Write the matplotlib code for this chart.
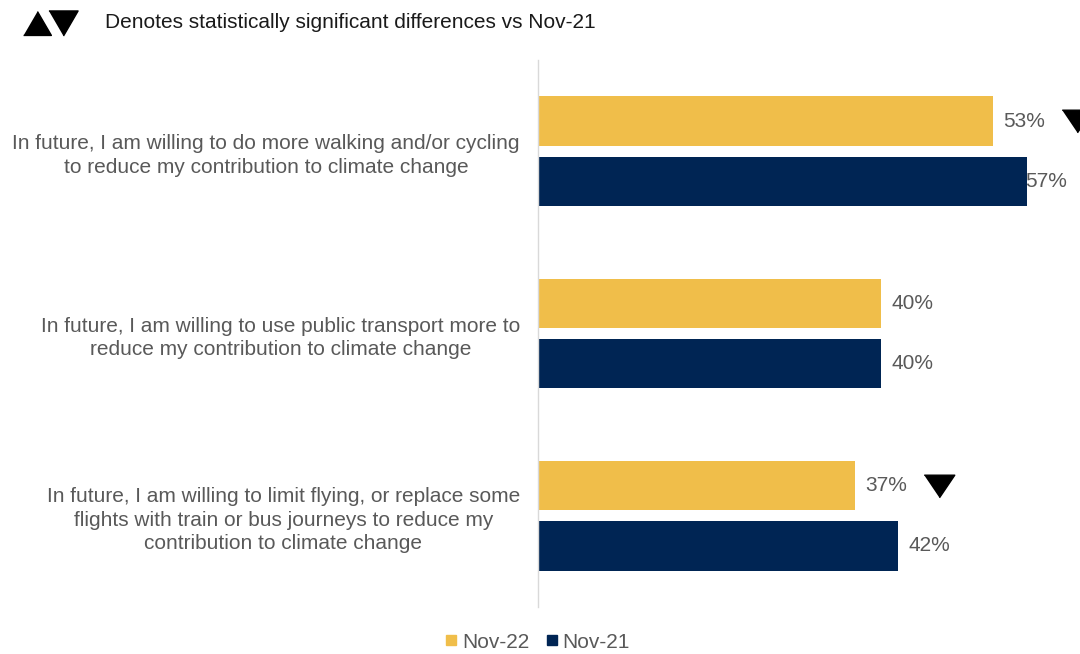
import matplotlib
matplotlib.use("Agg")
import matplotlib.pyplot as plt
from matplotlib.lines import Line2D
from matplotlib.transforms import ScaledTranslation
import numpy as np

plt.rcParams['font.family'] = ['Liberation Sans', 'DejaVu Sans']

# Survey statements (top to bottom)
statements = [
    "In future, I am willing to do more walking and/or cycling\nto reduce my contribution to climate change",
    "In future, I am willing to use public transport more to\nreduce my contribution to climate change",
    "In future, I am willing to limit flying, or replace some\nflights with train or bus journeys to reduce my\ncontribution to climate change",
]
waves = ["Nov-22", "Nov-21"]
nov22 = [53, 40, 37]
nov21 = [57, 40, 42]
# Significant change vs Nov-21 for the Nov-22 values: -1 down, 1 up, 0 none
significance = [-1, 0, -1]

YELLOW = "#F0BE4A"
NAVY = "#002554"
LABEL_GREY = "#595959"
VALUE_GREY = "#595959"
FS = 15

W, H, DPI = 1080, 654, 100
fig = plt.figure(figsize=(W / DPI, H / DPI), dpi=DPI)
ax = fig.add_axes([538 / W, 47 / H, 1 - 538 / W, (607 - 60) / H])

y = np.arange(len(statements))
bar_h = 0.27
off = 0.165
b22 = ax.barh(y - off, nov22, height=bar_h, color=YELLOW, label=waves[0])
b21 = ax.barh(y + off, nov21, height=bar_h, color=NAVY, label=waves[1])

ax.set_xlim(0, 63.2)
ax.set_ylim(len(statements) - 0.5, -0.5)

for s in ["top", "right", "bottom"]:
    ax.spines[s].set_visible(False)
ax.spines["left"].set_color("#d9d9d9")
ax.spines["left"].set_linewidth(1.0)
ax.set_xticks([])
ax.set_yticks(y)
ax.set_yticklabels(statements, fontsize=FS, color=LABEL_GREY, linespacing=1.3)
for t in ax.get_yticklabels():
    t.set_multialignment("center")
ax.tick_params(axis="y", length=0, pad=13)

# Value labels; the widest bar's label is pulled in so it stays on the canvas
label_shift = {(1, 0): -1.5}
for wi, (vals, bars) in enumerate([(nov22, b22), (nov21, b21)]):
    for i, (v, bar) in enumerate(zip(vals, bars)):
        dx = label_shift.get((wi, i), 7.5)
        ax.annotate(f"{v}%", xy=(v, bar.get_y() + bar.get_height() / 2),
                    xytext=(dx, 0), textcoords="offset points",
                    ha="left", va="center", fontsize=FS, color=VALUE_GREY,
                    annotation_clip=False)

# Significance markers next to the Nov-22 values
tri_down = [(-1, 0.74), (1, 0.74), (0, -0.74)]
tri_up = [(-1, -0.74), (1, -0.74), (0, 0.74)]
shift = ax.transData + ScaledTranslation(84 / DPI, 0, fig.dpi_scale_trans)
for i, (v, sig) in enumerate(zip(nov22, significance)):
    if sig == 0:
        continue
    ax.plot([v], [y[i] - off], marker=tri_down if sig < 0 else tri_up,
            markersize=22, color="black", linestyle="none",
            transform=shift, clip_on=False)

# Key for the significance markers
key_up = [(-1, -0.86), (1, -0.86), (0, 0.86)]
key_down = [(-1, 0.86), (1, 0.86), (0, -0.86)]
fig.add_artist(Line2D([37 / W], [1 - 23 / H], marker=key_up, markersize=20,
                      color="black", linestyle="none", transform=fig.transFigure))
fig.add_artist(Line2D([63 / W], [1 - 23 / H], marker=key_down, markersize=21,
                      color="black", linestyle="none", transform=fig.transFigure))
fig.text(105 / W, 1 - 22 / H, "Denotes statistically significant differences vs Nov-21",
         fontsize=FS, color="#1a1a1a", ha="left", va="center")

# Series legend
handles = [Line2D([], [], marker="s", markersize=7, color=YELLOW, linestyle="none"),
           Line2D([], [], marker="s", markersize=7, color=NAVY, linestyle="none")]
leg = fig.legend(handles, waves, loc="center", bbox_to_anchor=(538 / W, 12 / H),
                 ncol=2, frameon=False, fontsize=FS, handlelength=0.5,
                 handletextpad=0.25, columnspacing=0.85, borderaxespad=0)
for t in leg.get_texts():
    t.set_color(VALUE_GREY)

fig.savefig("out.png", dpi=DPI)
